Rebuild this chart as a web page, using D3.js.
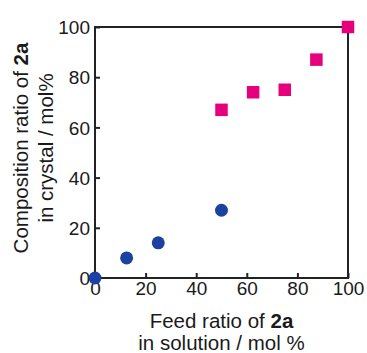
<!DOCTYPE html>
<html>
<head>
<meta charset="utf-8">
<script src="https://cdn.jsdelivr.net/npm/d3@7"></script>
<style>
  body { margin: 0; background: #fff; }
  text { font-family: "Liberation Sans", Arial, Helvetica, sans-serif; fill: #1a1a1a; }
</style>
</head>
<body>
<div id="chart"></div>
<script>
// data
var circleFeed = [0, 12.5, 25, 50];
var circleComp = [0, 8, 14, 27];
var squareFeed = [50, 62.5, 75, 87.5, 100];
var squareComp = [67, 74, 75, 87, 100];
var xTicks = [0, 20, 40, 60, 80, 100];
var yTicks = [0, 20, 40, 60, 80, 100];

var W = 367, H = 353;
var margin = {top: 27, right: 19, bottom: 75, left: 95};
var width = W - margin.left - margin.right,
    height = H - margin.top - margin.bottom;

var svg = d3.select("#chart").append("svg")
    .attr("width", W)
    .attr("height", H);

var g = svg.append("g")
    .attr("transform", `translate(${margin.left}, ${margin.top})`);

var x = d3.scaleLinear().domain([0, 100]).range([0, width]);
var y = d3.scaleLinear().domain([0, 100]).range([height, 0]);

// frame
g.append("rect")
    .attr("width", width)
    .attr("height", height)
    .attr("fill", "none")
    .attr("stroke", "#222")
    .attr("stroke-width", 2);

// x axis, ticks pointing inward
var xAxis = g.append("g")
    .attr("transform", `translate(0, ${height})`)
    .call(d3.axisBottom(x).tickValues(xTicks).tickSizeInner(-5).tickSizeOuter(0).tickPadding(6));
xAxis.select(".domain").remove();
xAxis.selectAll("line").attr("stroke", "#222").attr("stroke-width", 2);
xAxis.selectAll("text")
    .style("font-size", "19px")
    .attr("fill", "#1a1a1a")
    .attr("y", 4)
    .attr("dy", "0.71em");

// y axis
var yAxis = g.append("g")
    .call(d3.axisLeft(y).tickValues(yTicks).tickSizeInner(-5).tickSizeOuter(0).tickPadding(7));
yAxis.select(".domain").remove();
yAxis.selectAll("line").attr("stroke", "#222").attr("stroke-width", 2);
yAxis.selectAll("text")
    .style("font-size", "19px")
    .attr("fill", "#1a1a1a")
    .attr("x", -5)
    .attr("dy", "0.35em");

// blue circles
g.selectAll(".dot")
    .data(circleFeed.map((f, i) => ({f: f, c: circleComp[i]})))
    .enter().append("circle")
    .attr("class", "dot")
    .attr("cx", d => x(d.f))
    .attr("cy", d => y(d.c))
    .attr("r", 6.5)
    .attr("fill", "#1d41a0");

// pink squares
var s = 12.5;
g.selectAll(".sq")
    .data(squareFeed.map((f, i) => ({f: f, c: squareComp[i]})))
    .enter().append("rect")
    .attr("class", "sq")
    .attr("x", d => x(d.f) - s / 2)
    .attr("y", d => y(d.c) - s / 2)
    .attr("width", s)
    .attr("height", s)
    .attr("fill", "#e6007e");

// x axis title
var xt = svg.append("text")
    .attr("text-anchor", "middle")
    .attr("x", margin.left + width / 2)
    .attr("y", 328)
    .style("font-size", "20.5px");
xt.append("tspan").text("Feed ratio of ");
xt.append("tspan").attr("font-weight", "bold").text("2a");
svg.append("text")
    .attr("text-anchor", "middle")
    .attr("x", margin.left + width / 2)
    .attr("y", 350)
    .style("font-size", "20.5px")
    .text("in solution / mol %");

// y axis title
var yt = svg.append("text")
    .attr("text-anchor", "middle")
    .attr("transform", "translate(28, 148) rotate(-90)")
    .style("font-size", "20.5px");
yt.append("tspan").text("Composition ratio of ");
yt.append("tspan").attr("font-weight", "bold").text("2a");
svg.append("text")
    .attr("text-anchor", "middle")
    .attr("transform", "translate(53, 148) rotate(-90)")
    .style("font-size", "20.5px")
    .text("in crystal / mol%");
</script>
</body>
</html>
